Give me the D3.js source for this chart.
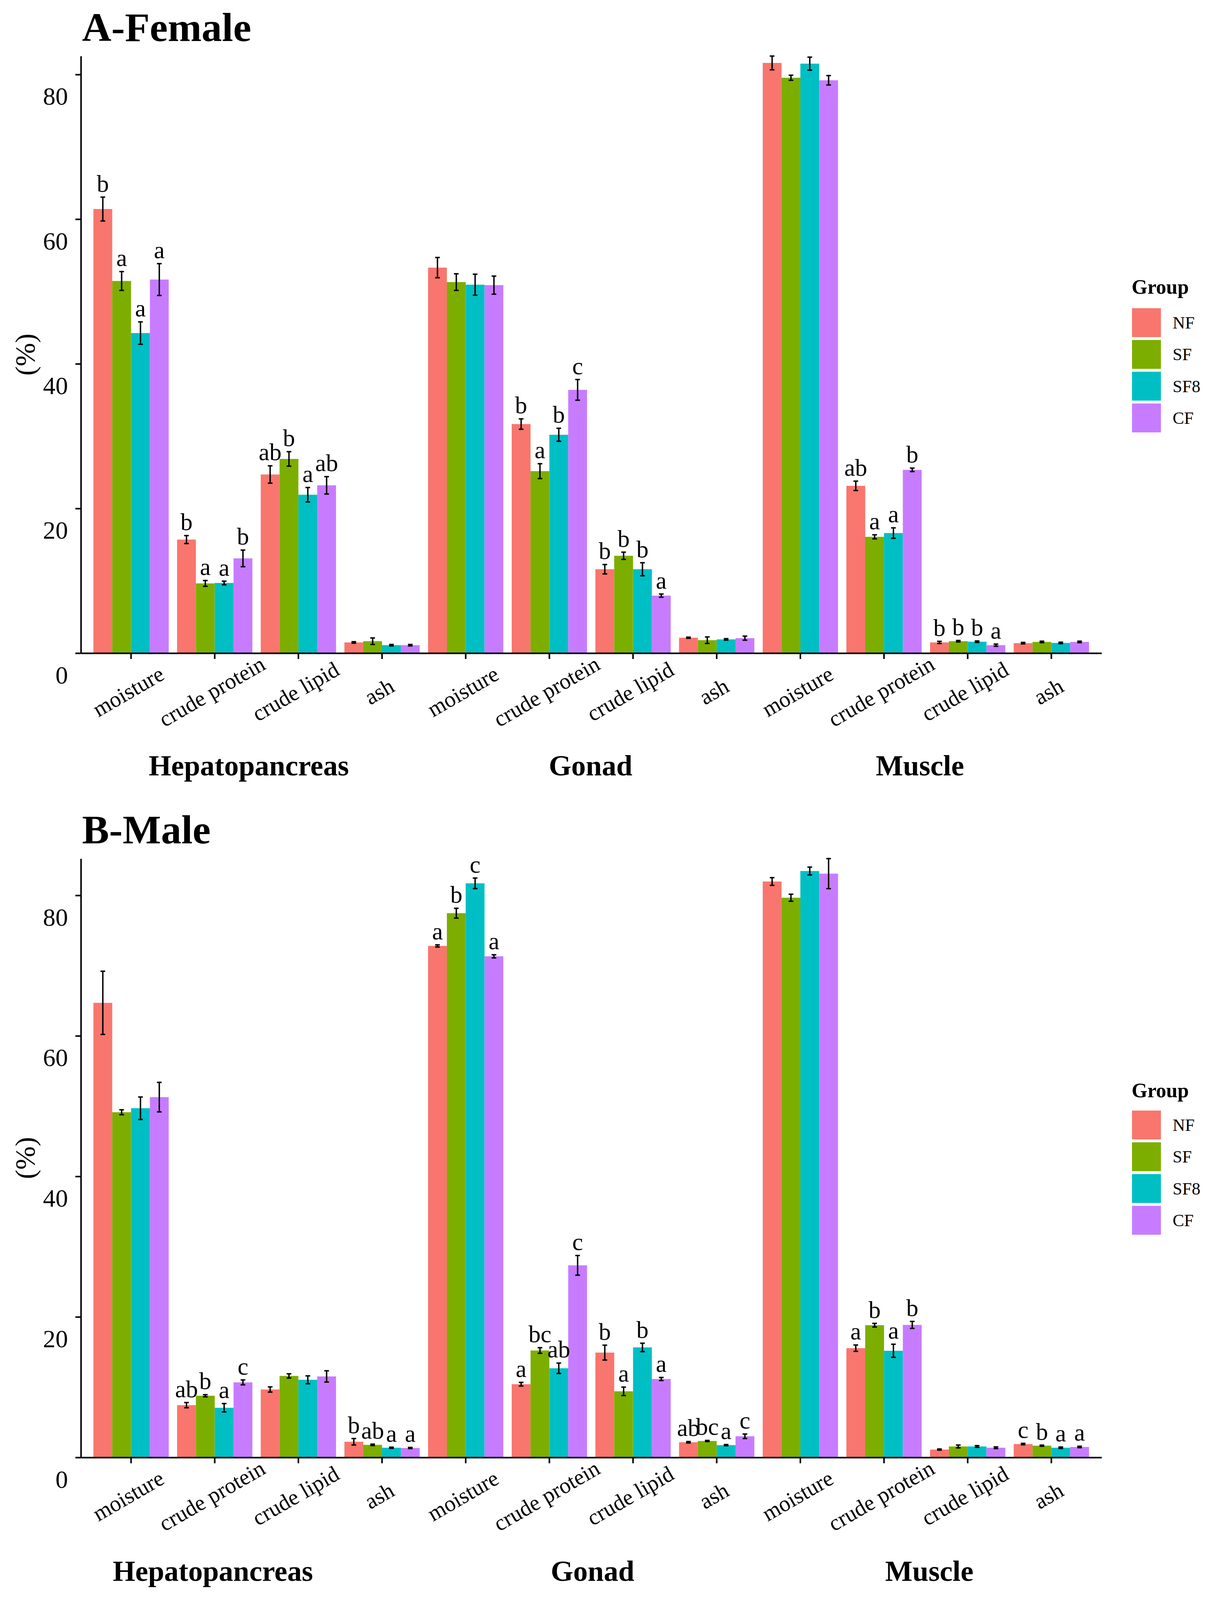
<!DOCTYPE html>
<html>
<head>
<meta charset="utf-8">
<script src="https://cdn.jsdelivr.net/npm/d3@7/dist/d3.min.js"></script>
<style>
  html, body { margin: 0; padding: 0; background: #ffffff; }
  svg { display: block; }
</style>
</head>
<body>
<svg id="chart" width="3113" height="4099"></svg>
<script>
// ---------------- DATA ----------------
const tissues = ["Hepatopancreas", "Gonad", "Muscle"];
const components = ["moisture", "crude protein", "crude lipid", "ash"];
const groups = ["NF", "SF", "SF8", "CF"];
const groupColors = ["#F8766D", "#7CAE00", "#00BFC4", "#C77CFF"];
const yTickValues = [0, 20, 40, 60, 80];

// Female (panel A): 12 values per group, order = tissue x component
const femaleNF  = [61.4, 15.7, 24.7, 1.48, 53.3, 31.67, 11.6, 2.13, 81.6, 23.13, 1.48, 1.38];
const femaleSF  = [51.45, 9.64, 26.85, 1.65, 51.3, 25.16, 13.46, 1.79, 79.55, 16.08, 1.65, 1.55];
const femaleSF8 = [44.25, 9.7, 21.9, 1.1, 50.94, 30.19, 11.6, 1.9, 81.5, 16.6, 1.58, 1.41];
const femaleCF  = [51.65, 13.1, 23.2, 1.1, 50.88, 36.4, 7.95, 2.07, 79.2, 25.34, 1.1, 1.55];

const femaleSeNF  = [1.65, 0.55, 1.2, 0.1, 1.4, 0.72, 0.65, 0.08, 0.95, 0.65, 0.15, 0.1];
const femaleSeSF  = [1.3, 0.4, 1.0, 0.45, 1.15, 1.03, 0.5, 0.45, 0.35, 0.28, 0.1, 0.1];
const femaleSeSF8 = [1.55, 0.25, 1.0, 0.1, 1.45, 0.9, 0.9, 0.1, 0.9, 0.72, 0.1, 0.1];
const femaleSeCF  = [2.2, 1.15, 1.2, 0.1, 1.25, 1.43, 0.22, 0.28, 0.65, 0.24, 0.15, 0.1];

const femaleLetNF  = ["b", "b", "ab", "", "", "b", "b", "", "", "ab", "b", ""];
const femaleLetSF  = ["a", "a", "b", "", "", "a", "b", "", "", "a", "b", ""];
const femaleLetSF8 = ["a", "a", "a", "", "", "b", "b", "", "", "a", "b", ""];
const femaleLetCF  = ["a", "b", "ab", "", "", "c", "a", "", "", "b", "a", ""];

// Male (panel B)
const maleNF  = [64.7, 7.44, 9.67, 2.23, 72.8, 10.42, 14.92, 2.16, 81.97, 15.55, 1.12, 1.9];
const maleSF  = [49.13, 8.78, 11.6, 1.79, 77.46, 15.22, 9.41, 2.34, 79.66, 18.82, 1.56, 1.67];
const maleSF8 = [49.7, 7.07, 11.05, 1.38, 81.71, 12.69, 15.66, 1.75, 83.46, 15.18, 1.56, 1.38];
const maleCF  = [51.28, 10.68, 11.53, 1.34, 71.32, 27.34, 11.16, 3.01, 83.09, 18.86, 1.38, 1.49];

const maleSeNF  = [4.5, 0.37, 0.37, 0.46, 0.15, 0.26, 1.06, 0.1, 0.55, 0.45, 0.08, 0.1];
const maleSeSF  = [0.35, 0.15, 0.3, 0.1, 0.7, 0.4, 0.6, 0.08, 0.5, 0.26, 0.2, 0.08];
const maleSeSF8 = [1.6, 0.6, 0.56, 0.08, 0.75, 0.74, 0.6, 0.08, 0.56, 0.93, 0.12, 0.1];
const maleSeCF  = [2.1, 0.35, 0.8, 0.08, 0.22, 1.4, 0.22, 0.32, 2.14, 0.5, 0.12, 0.1];

const maleLetNF  = ["", "ab", "", "b", "a", "a", "b", "ab", "", "a", "", "c"];
const maleLetSF  = ["", "b", "", "ab", "b", "bc", "a", "bc", "", "b", "", "b"];
const maleLetSF8 = ["", "a", "", "a", "c", "ab", "b", "a", "", "a", "", "a"];
const maleLetCF  = ["", "c", "", "a", "a", "c", "a", "c", "", "b", "", "a"];

// ---------------- LAYOUT ----------------
const FONT = "'Liberation Serif', 'Times New Roman', Times, serif";
const svg = d3.select("#chart");
svg.append("rect").attr("x", 0).attr("y", 0).attr("width", 3113).attr("height", 4099).attr("fill", "#ffffff");

const categories = [];
tissues.forEach(t => components.forEach(c => categories.push(t + "|" + c)));

const panels = [
  {
    title: "A-Female", titleY: 105, top: 143.5, bottom: 1672,
    means: [femaleNF, femaleSF, femaleSF8, femaleCF],
    ses: [femaleSeNF, femaleSeSF, femaleSeSF8, femaleSeCF],
    lets: [femaleLetNF, femaleLetSF, femaleLetSF8, femaleLetCF],
    tissueX: [637, 1512, 2355], tissueY: 1985,
    legendTitleY: 752, legendKeyTop: 789
  },
  {
    title: "B-Male", titleY: 2159, top: 2198, bottom: 3731,
    means: [maleNF, maleSF, maleSF8, maleCF],
    ses: [maleSeNF, maleSeSF, maleSeSF8, maleSeCF],
    lets: [maleLetNF, maleLetSF, maleLetSF8, maleLetCF],
    tissueX: [545, 1517, 2379], tissueY: 4047,
    legendTitleY: 2809, legendKeyTop: 2843
  }
];

const xLeft = 207, xRight = 2820;

panels.forEach(p => {
  const g = svg.append("g");

  const x = d3.scaleBand().domain(categories).range([xLeft, xRight])
    .paddingInner(0.1).paddingOuter(0.15);
  const xg = d3.scaleBand().domain(groups).range([0, x.bandwidth()]);

  let maxV = 0;
  groups.forEach((gr, gi) => p.means[gi].forEach((m, i) => { maxV = Math.max(maxV, m + p.ses[gi][i]); }));
  const y = d3.scaleLinear().domain([0, maxV]).range([p.bottom, p.top]);

  // title
  g.append("text").attr("x", 210).attr("y", p.titleY)
    .attr("font-family", FONT).attr("font-weight", "bold").attr("font-size", 104)
    .attr("fill", "#000").text(p.title);

  // records
  const recs = [];
  groups.forEach((gr, gi) => {
    categories.forEach((c, i) => {
      recs.push({ cat: c, group: gr, gi: gi, mean: p.means[gi][i], se: p.ses[gi][i], letter: p.lets[gi][i] });
    });
  });

  // bars
  g.append("g").selectAll("rect").data(recs).join("rect")
    .attr("x", d => x(d.cat) + xg(d.group))
    .attr("width", xg.bandwidth())
    .attr("y", d => y(d.mean))
    .attr("height", d => y(0) - y(d.mean))
    .attr("fill", d => groupColors[d.gi]);

  // error bars
  const capW = 12;
  const eb = g.append("g").attr("stroke", "#000").attr("stroke-width", 3.6);
  eb.selectAll("line.v").data(recs).join("line").attr("class", "v")
    .attr("x1", d => x(d.cat) + xg(d.group) + xg.bandwidth() / 2)
    .attr("x2", d => x(d.cat) + xg(d.group) + xg.bandwidth() / 2)
    .attr("y1", d => y(d.mean - d.se)).attr("y2", d => y(d.mean + d.se));
  eb.selectAll("line.t").data(recs).join("line").attr("class", "t")
    .attr("x1", d => x(d.cat) + xg(d.group) + xg.bandwidth() / 2 - capW / 2)
    .attr("x2", d => x(d.cat) + xg(d.group) + xg.bandwidth() / 2 + capW / 2)
    .attr("y1", d => y(d.mean + d.se)).attr("y2", d => y(d.mean + d.se));
  eb.selectAll("line.b").data(recs).join("line").attr("class", "b")
    .attr("x1", d => x(d.cat) + xg(d.group) + xg.bandwidth() / 2 - capW / 2)
    .attr("x2", d => x(d.cat) + xg(d.group) + xg.bandwidth() / 2 + capW / 2)
    .attr("y1", d => y(d.mean - d.se)).attr("y2", d => y(d.mean - d.se));

  // significance letters
  g.append("g").selectAll("text").data(recs.filter(d => d.letter)).join("text")
    .attr("x", d => x(d.cat) + xg(d.group) + xg.bandwidth() / 2)
    .attr("y", d => y(d.mean + d.se) - 14)
    .attr("text-anchor", "middle")
    .attr("font-family", FONT).attr("font-size", 62).attr("fill", "#000")
    .text(d => d.letter);

  // y axis
  const ya = g.append("g").attr("transform", `translate(${xLeft},0)`)
    .call(d3.axisLeft(y).tickValues(yTickValues).tickSize(14).tickSizeOuter(0).tickPadding(19));
  ya.attr("color", "#000");
  ya.select(".domain").attr("stroke-width", 4);
  ya.selectAll(".tick line").attr("stroke-width", 4);
  ya.selectAll(".tick text")
    .attr("font-family", FONT).attr("font-size", 64).attr("fill", "#000")
    .attr("dy", 0).attr("y", 77);

  // x axis
  const xa = g.append("g").attr("transform", `translate(0,${p.bottom})`)
    .call(d3.axisBottom(x).tickSize(15).tickSizeOuter(0).tickFormat(d => d.split("|")[1]));
  xa.attr("color", "#000");
  xa.select(".domain").attr("stroke-width", 4);
  xa.selectAll(".tick line").attr("stroke-width", 4);
  xa.selectAll(".tick text")
    .attr("font-family", FONT).attr("font-size", 57).attr("fill", "#000")
    .attr("text-anchor", "middle")
    .attr("y", 0).attr("dy", "0.3em")
    .attr("transform", "translate(-6,100) rotate(-30)");

  // y axis title
  g.append("text")
    .attr("transform", `translate(65,${(p.top + p.bottom) / 2}) rotate(-90)`)
    .attr("text-anchor", "middle").attr("dominant-baseline", "central")
    .attr("font-family", FONT).attr("font-size", 72).attr("fill", "#000")
    .text("(%)");

  // tissue labels
  g.append("g").selectAll("text").data(tissues).join("text")
    .attr("x", (d, i) => p.tissueX[i]).attr("y", p.tissueY)
    .attr("text-anchor", "middle")
    .attr("font-family", FONT).attr("font-weight", "bold").attr("font-size", 74)
    .attr("fill", "#000").text(d => d);

  // legend
  const lg = g.append("g");
  lg.append("text").attr("x", 2897).attr("y", p.legendTitleY)
    .attr("font-family", FONT).attr("font-weight", "bold").attr("font-size", 52)
    .attr("fill", "#000").text("Group");
  const keyStep = 81.3, keySize = 74;
  lg.selectAll("rect").data(groups).join("rect")
    .attr("x", 2898).attr("y", (d, i) => p.legendKeyTop + i * keyStep)
    .attr("width", keySize).attr("height", keySize)
    .attr("fill", (d, i) => groupColors[i]);
  lg.selectAll("text.lab").data(groups).join("text").attr("class", "lab")
    .attr("x", 3002).attr("y", (d, i) => p.legendKeyTop + i * keyStep + keySize / 2 + 15)
    .attr("font-family", FONT).attr("font-size", 44).attr("fill", "#000")
    .text(d => d);
});
</script>
</body>
</html>
